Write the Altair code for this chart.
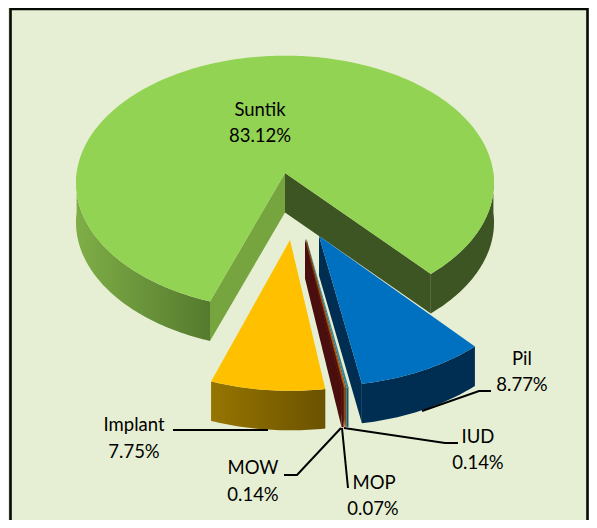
import math
import altair as alt
import pandas as pd

# --- chart values
names = ["Suntik", "Pil", "IUD", "MOP", "MOW", "Implant"]
shares = [83.12, 8.77, 0.14, 0.07, 0.14, 7.75]
pct_text = ["83.12%", "8.77%", "0.14%", "0.07%", "0.14%", "7.75%"]

# --- styles
BG = "#E6EFD3"
TOP = ["#93D353", "#0070C0", "#31859C", "#E46C0A", "#4A0E0E", "#FFC000"]
WALL = ["#3D5423", "#002E52", "#215968", "#974806", "#4A0E0E", "#6B5200"]

# --- layout: perspective projection of the pie plane
W, H = 581, 512
X0, Y0, A, B, K = 285.0, 173.0, 208.4, 126.4, 0.077
DEPTH = 39.5
START = 199.5
APEX = [(285, 173), (319, 236), (306.6, 239), (306, 239), (305, 239), (290, 240)]
RAD = [1.0, 1.012, 1.012, 1.012, 1.012, 1.012]


def proj(u, v):
    w = 1 - K * v
    return X0 + A * u / w, Y0 + B * v / w


def unproj(x, y):
    q = (y - Y0) / B
    v = q / (1 + K * q)
    return (x - X0) * (1 - K * v) / A, v


total = sum(shares)
spans = []
t = START
for s in shares:
    spans.append((t, t + 360 * s / total))
    t = spans[-1][1]


def rim(i, t0, t1):
    n = max(2, int(abs(t1 - t0)) + 2)
    u0, v0 = unproj(*APEX[i])
    out = []
    for j in range(n):
        a = math.radians(t0 + (t1 - t0) * j / (n - 1))
        out.append(proj(u0 + RAD[i] * math.sin(a), v0 - RAD[i] * math.cos(a)))
    return out


def drop(pts):
    return [(x, y + DEPTH) for x, y in pts]


sx = alt.Scale(domain=[8, 8 + W], range=[0, W])
sy = alt.Scale(domain=[8 + H, 8], range=[H, 0])
X = alt.X("x:Q", scale=sx, axis=None)
Y = alt.Y("y:Q", scale=sy, axis=None)


def poly(pts, fill):
    pts = list(pts) + [pts[0]]
    df = pd.DataFrame({"x": [p[0] for p in pts], "y": [p[1] for p in pts], "o": range(len(pts))})
    return alt.Chart(df).mark_line(fill=fill, stroke=None, strokeWidth=0, clip=False).encode(
        x=X, y=Y, order="o:Q")


def line(pts, width=2.0, color="#000000"):
    df = pd.DataFrame({"x": [p[0] for p in pts], "y": [p[1] for p in pts], "o": range(len(pts))})
    return alt.Chart(df).mark_line(color=color, strokeWidth=width).encode(x=X, y=Y, order="o:Q")


def hgrad(c0, c1):
    return alt.LinearGradient(
        gradient="linear", x1=0, x2=1, y1=0, y2=0,
        stops=[alt.GradientStop(color=c0, offset=0), alt.GradientStop(color=c1, offset=1)],
    )


def outer(i, t0, t1, fill):
    r = rim(i, t0, t1)
    return poly(r + drop(r)[::-1], fill)


def side(i, t, fill):
    a = APEX[i]
    r = rim(i, t, t)[0]
    return poly([a, (a[0], a[1] + DEPTH), (r[0], r[1] + DEPTH), r], fill)


def top(i):
    t0, t1 = spans[i]
    return poly([APEX[i]] + rim(i, t0, t1), TOP[i])


layers = []
# Suntik
s0, s1 = spans[0]
layers.append(outer(0, 270, s0, hgrad("#7FAE47", "#557A2E")))
layers.append(outer(0, s1 - 360, 90, WALL[0]))
layers.append(side(0, s0, "#76A540"))
layers.append(side(0, s1, WALL[0]))
layers.append(top(0))
# Pil
layers.append(outer(1, *spans[1], WALL[1]))
layers.append(side(1, spans[1][1], WALL[1]))
layers.append(top(1))
# Implant
layers.append(outer(5, *spans[5], hgrad("#967500", "#6B5200")))
layers.append(top(5))
# slivers
for i in (2, 3, 4):
    layers.append(side(i, spans[i][1], WALL[i]))
    layers.append(outer(i, *spans[i], WALL[i]))
    layers.append(top(i))

# frame
layers.append(line([(10.5, 520), (10.5, 9), (587.5, 9), (587.5, 520)], width=2.6, color="#050A05"))

# leader lines
leaders = [
    [(422, 411), (479, 391), (491, 391)],
    [(268, 430), (173, 430)],
    [(341, 428), (297, 475), (284, 475)],
    [(342, 428), (348, 488)],
    [(344, 428), (445, 443), (458, 443)],
]
for p in leaders:
    layers.append(line(p))

# labels
label_pos = {
    "Suntik": (260, 110, 260, 136),
    "Pil": (522, 359, 522, 385),
    "IUD": (478, 437, 478, 463),
    "MOP": (374, 483, 373, 509),
    "MOW": (253, 468, 253, 495),
    "Implant": (134, 425, 134, 452),
}
rows = []
for n, p in zip(names, pct_text):
    a, b, c, d = label_pos[n]
    rows.append({"x": a, "y": b, "t": n})
    rows.append({"x": c, "y": d, "t": p})
layers.append(
    alt.Chart(pd.DataFrame(rows))
    .mark_text(font="Lato", fontSize=18.5, color="#000000", align="center", baseline="middle")
    .encode(x=X, y=Y, text="t:N")
)

chart = alt.layer(*layers).properties(
    width=W, height=H, padding=0, background=BG,
    autosize=alt.AutoSizeParams(type="none"),
).configure_view(stroke=None)

chart.save("out.html", embed_options={"renderer": "svg", "actions": False})
